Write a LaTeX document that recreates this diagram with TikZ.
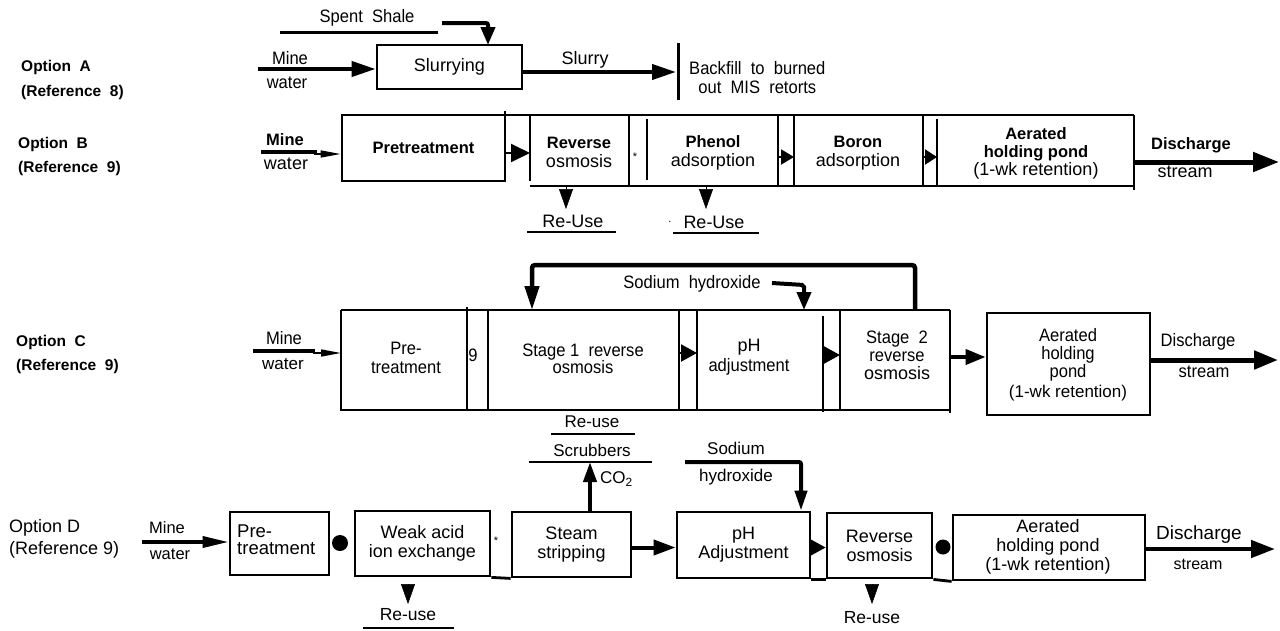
\documentclass[tikz,border=0pt]{standalone}
\usepackage{fontspec}
\setmainfont{Liberation Sans}
\newfontfamily\nar[FakeStretch=0.92]{Liberation Sans}
\usetikzlibrary{arrows.meta}
\begin{document}
\begin{tikzpicture}[x=1pt,y=-1pt,
  box/.style={draw, line width=2.8pt, inner sep=0pt},
  wall/.style={line width=2.8pt},
  flow/.style={line width=4pt, -{Triangle[length=24pt,width=15pt]}},
  bendar/.style={line width=4pt, rounded corners=2pt, -{Triangle[length=18pt,width=14pt]}},
  thinar/.style={line width=1.6pt, -{Triangle[length=20pt,width=7pt]}},
  wedge/.style={line width=2pt, -{Triangle[length=19pt,width=18pt]}},
  drop/.style={line width=0.5pt, -{Triangle[length=20pt,width=14pt]}},
  uline/.style={line width=2.8pt},
  lbl/.style={anchor=west, align=left, inner sep=0pt, font=\fontsize{15.5}{24.5}\selectfont\bfseries},
  bt/.style={inner sep=0pt, align=center, font=\fontsize{16.5}{19}\selectfont\bfseries},
  rt/.style={inner sep=0pt, align=center, font=\fontsize{18}{19}\selectfont},
  nt/.style={inner sep=0pt, align=center, font=\nar\fontsize{18}{19}\selectfont},
  st/.style={inner sep=0pt, font=\fontsize{11}{11}\selectfont}
]
\useasboundingbox (0,0) rectangle (1280,630);

% ---------------- Option A ----------------
\node[lbl] (optA) at (21,80) {Option\ \ A\\(Reference\ \ 8)};
\node[nt] (spent) at (367,18) {Spent\ \ Shale};
\coordinate (spL) at (280,32); \coordinate (spR) at (438,32);
\draw[uline, line width=3pt] (spL) -- (spR);
\node[box, minimum width=145pt, minimum height=44pt, rt] (slur) at (449.5,67) {Slurrying};
\coordinate (spS) at (442,23); \coordinate (spB) at (488,23); \coordinate (spT) at (488,45);
\draw[bendar] (spS) -- (spB) -- (spT);
\node[nt] (mineA) at (290,58) {Mine};
\node[nt] (waterA) at (287,83) {water};
\coordinate (mAs) at (258,69);
\draw[flow] (mAs) -- (slur.west |- mAs);
\node[rt] (slurry) at (585,60) {Slurry};
\coordinate (slE) at (522,72); \coordinate (bar) at (676,72);
\draw[flow] (slE) -- (bar);
\coordinate (barT) at (678,43); \coordinate (barB) at (678,100);
\draw[line width=3pt] (barT) -- (barB);
\node[nt, anchor=west, align=left] (backfill) at (689,77.5) {Backfill\ \ to\ \ burned\\\ \ out\ \ MIS\ \ retorts};

% ---------------- Option B ----------------
\node[lbl] (optB) at (18,156.5) {Option\ \ B\\(Reference\ \ 9)};
\node[bt] (mineB) at (285,140) {Mine};
\node[rt] (waterB) at (286,164) {water};
\coordinate (mBs) at (261,152); \coordinate (mBm) at (317,152); \coordinate (mBt) at (314,154);
\draw[line width=4.5pt] (mBs) -- (mBm);
\node[box, minimum width=163pt, minimum height=66pt, bt] (preB) at (423.5,148) {Pretreatment};
\draw[thinar] (mBt) -- (preB.west |- mBt);
% composite block
\coordinate (tB0) at (505,115); \coordinate (tB1) at (1134,115);
\coordinate (bB0) at (530,186); \coordinate (bB1) at (1134,186);
\draw[wall] (tB0) -- (tB1);
\draw[wall] (bB0) -- (bB1);
\draw[wall] (505,111) -- (505,115);
\coordinate (roL) at (530,153);
\draw[wall] (530,115) -- (530,181);
\draw[wall] (629,115) -- (629,186);
\draw[wall] (647,119) -- (647,180);
\draw[wall] (778,115) -- (778,186);
\draw[wall] (794,115) -- (794,186);
\draw[wall] (923,115) -- (923,186);
\draw[wall] (937,119) -- (937,186);
\draw[wall] (1134,115) -- (1134,190);
\draw[wedge] (preB.east |- roL) -- (roL);
\node[rt] (roB) at (579,152.5) {{\bfseries\fontsize{16.5}{19}\selectfont Reverse}\\osmosis};
\node[st] (starB) at (635,157) {*};
\node[rt] (pheB) at (713,152.5) {{\bfseries\fontsize{16.5}{19}\selectfont Phenol}\\adsorption};
\node[rt] (borB) at (858,153.5) {{\bfseries\fontsize{16.5}{19}\selectfont Boron}\\adsorption};
\node[rt, font=\fontsize{18}{18}\selectfont] (aerB) at (1036,153) {{\bfseries\fontsize{16.5}{18}\selectfont Aerated}\\{\bfseries\fontsize{16.5}{18}\selectfont holding pond}\\(1-wk retention)};
\coordinate (pheR) at (779,157); \coordinate (borL) at (794,157);
\coordinate (borR) at (924,157); \coordinate (aerL) at (937,157);
\draw[line width=2pt, -{Triangle[length=13pt,width=15pt]}] (pheR) -- (borL);
\draw[line width=2pt, -{Triangle[length=12pt,width=15pt]}] (borR) -- (aerL);
\node[bt] (disB) at (1191,145) {Discharge};
\node[rt] (strB) at (1185,172) {stream};
\coordinate (dBs) at (1134,162); \coordinate (dBe) at (1279,162);
\draw[line width=5pt, -{Triangle[length=26pt,width=19pt]}] (dBs) -- (dBe);
% re-use
\coordinate (r1a) at (566,187); \coordinate (r1b) at (566,209);
\coordinate (r2a) at (706,187); \coordinate (r2b) at (706,209);
\draw[drop] (r1a) -- (r1b);
\draw[drop] (r2a) -- (r2b);
\node[rt] (reuse1) at (573,221) {Re-Use};
\node[rt] (reuse2) at (714,222) {Re-Use};
\node[st] (dotB) at (670,222) {.};
\draw[uline] (527,232) -- (616,232);
\draw[uline] (673,233) -- (759,233);

% ---------------- Option C ----------------
\node[lbl] (optC) at (16,354.5) {Option\ \ C\\(Reference\ \ 9)};
\node[nt] (mineC) at (284,338) {Mine};
\node[rt, font=\fontsize{17}{19}\selectfont] (waterC) at (283,364) {water};
\coordinate (mCs) at (253,351); \coordinate (mCm) at (315,351); \coordinate (mCt) at (313,353);
\draw[line width=4.5pt] (mCs) -- (mCm);
\coordinate (cL) at (341,353);
\draw[thinar] (mCt) -- (cL);
\coordinate (tC0) at (341,310); \coordinate (tC1) at (950,310);
\coordinate (bC0) at (341,410); \coordinate (bC1) at (950,410);
\draw[wall] (tC0) -- (tC1);
\draw[wall] (bC0) -- (bC1);
\draw[wall] (341,310) -- (341,411);
\draw[wall] (467,307) -- (467,411);
\draw[wall] (488,310) -- (488,410);
\draw[wall] (679,310) -- (679,410);
\draw[wall] (697,310) -- (697,410);
\draw[wall] (823,316) -- (823,412);
\draw[wall] (840,310) -- (840,410);
\draw[wall] (950,310) -- (950,413);
\node[nt, font=\nar\fontsize{18}{19}\selectfont] (preC) at (406,358) {Pre-\\treatment};
\node[nt] (nineC) at (473,355) {9};
\node[nt, font=\nar\fontsize{18}{17}\selectfont] (st1C) at (583,359) {Stage 1\ \ reverse\\osmosis};
\node[inner sep=0pt, align=center, font=\fontsize{18}{20}\selectfont] (phC) at (749,357) {pH\\{\nar adjustment}};
\node[inner sep=0pt, align=center, font=\fontsize{18}{18}\selectfont] (st2C) at (897,355) {{\nar Stage\ \ 2}\\{\nar reverse}\\osmosis};
\coordinate (s1R) at (679,353); \coordinate (phL) at (697,353);
\coordinate (phR) at (823,355); \coordinate (s2L) at (840,355);
\draw[line width=2pt, -{Triangle[length=16pt,width=17pt]}] (s1R) -- (phL);
\draw[line width=2pt, -{Triangle[length=16pt,width=17pt]}] (phR) -- (s2L);
\node[box, minimum width=163pt, minimum height=102pt] (aerC) at (1068.5,364) {};
\node[inner sep=0pt, align=center, font=\fontsize{18}{18}\selectfont] (aerCt) at (1068,365) {{\nar Aerated}\\{\nar holding}\\{\nar pond}\\[2pt]{\fontsize{17}{18}\selectfont (1-wk retention)}};
\coordinate (s2R) at (951,357);
\draw[line width=4pt, -{Triangle[length=20pt,width=15pt]}] (s2R) -- (aerC.west |- s2R);
\node[nt] (disC) at (1198,342) {Discharge};
\node[nt] (strC) at (1204,372) {stream};
\coordinate (dCe) at (1278,360);
\draw[line width=5pt, -{Triangle[length=24pt,width=18pt]}] (aerC.east |- dCe) -- (dCe);
% feedback
\coordinate (fbA) at (915,310); \coordinate (fbB) at (915,265);
\coordinate (fbC) at (532,265); \coordinate (fbD) at (532,310);
\draw[line width=4.5pt, rounded corners=3pt, -{Triangle[length=24pt,width=14pt]}] (fbA) -- (fbB) -- (fbC) -- (fbD);
\node[nt] (sodC) at (692,284) {Sodium\ \ hydroxide};
\coordinate (naA) at (772,283); \coordinate (naB) at (804,285); \coordinate (naC) at (804,310);
\draw[bendar] (naA) -- (naB) -- (naC);

% ---------------- Option D ----------------
\node[anchor=west, align=left, inner sep=0pt, font=\fontsize{18}{22}\selectfont] (optD) at (9,539) {Option D\\(Reference 9)};
\node[rt, font=\fontsize{16.5}{19}\selectfont] (mineD) at (167,528) {Mine};
\node[rt, font=\fontsize{16.5}{19}\selectfont] (waterD) at (170,554) {water};
\node[box, minimum width=99pt, minimum height=63pt] (preD) at (279.5,543.5) {};
\node[anchor=west, align=left, inner sep=0pt, font=\fontsize{18.5}{17}\selectfont] (preDt) at (237,540) {Pre-\\treatment};
\coordinate (mDs) at (142,542);
\draw[line width=3.5pt, -{Triangle[length=26pt,width=11pt]}] (mDs) -- (preD.west |- mDs);
\fill (340,543) circle[radius=8pt];
\node[box, minimum width=135pt, minimum height=65pt, rt] (weak) at (422.5,543.5) {Weak acid\\ion exchange};
\node[st] (starD) at (496,541) {*};
\node[box, minimum width=119pt, minimum height=65pt, rt] (steam) at (571.5,544.5) {Steam\\stripping};
\draw[wall] (weak.south east) -- (steam.south west);
\node[box, minimum width=133pt, minimum height=66pt, rt] (phD) at (743.5,545) {pH\\Adjustment};
\node[box, minimum width=105pt, minimum height=65pt, rt] (roD) at (879.5,545.5) {Reverse\\osmosis};
\fill (943,547) circle[radius=7.5pt];
\node[box, minimum width=192pt, minimum height=65pt] (aerD) at (1049,547.5) {};
\node[rt] (aerDt) at (1048,547) {Aerated\\holding pond\\(1-wk retention)};
\draw[wall] (phD.south east) -- (roD.south west);
\draw[wall] (roD.south east) -- (aerD.south west);
\coordinate (yD) at (0,547.5);
\draw[line width=4pt, -{Triangle[length=22pt,width=15pt]}] (steam.east |- yD) -- (phD.west |- yD);
\draw[line width=2pt, -{Triangle[length=16pt,width=17pt]}] (phD.east |- yD) -- (roD.west |- yD);
\node[rt, font=\fontsize{19}{19}\selectfont] (disD) at (1199,535) {Discharge};
\node[rt, font=\fontsize{16}{19}\selectfont] (strD) at (1198,564) {stream};
\coordinate (dDe) at (1275,549);
\draw[line width=4.5pt, -{Triangle[length=24pt,width=17pt]}] (aerD.east |- dDe) -- (dDe);
% CO2 / scrubbers / re-use
\coordinate (co2t) at (590,462);
\draw[line width=4pt, -{Triangle[length=20pt,width=13pt]}] (steam.north -| co2t) -- (co2t);
\node[rt, font=\fontsize{17}{19}\selectfont, anchor=west] (co2) at (600,479) {CO\textsubscript{2}};
\draw[uline] (529,462) -- (652,462);
\node[rt, font=\fontsize{17}{19}\selectfont] (scrub) at (592,450) {Scrubbers};
\draw[uline] (551,434) -- (635,434);
\node[rt, font=\fontsize{17}{19}\selectfont] (reuseC) at (592,422) {Re-use};
% sodium hydroxide D
\node[rt, font=\fontsize{17}{19}\selectfont] (sodD) at (736,448) {Sodium};
\node[rt, font=\fontsize{17}{19}\selectfont] (hydD) at (736,477) {hydroxide};
\coordinate (nDa) at (685,462); \coordinate (nDb) at (801,462);
\draw[line width=4pt, rounded corners=2pt, -{Triangle[length=20pt,width=12pt]}] (nDa) -- (nDb) -- (phD.north -| nDb);
% re-use D
\coordinate (rDa) at (408,586); \coordinate (rDb) at (408,604);
\draw[drop] (rDa) -- (rDb);
\node[rt, font=\fontsize{17.5}{19}\selectfont] (reuseD1) at (408,615) {Re-use};
\draw[uline] (363,628) -- (454,628);
\coordinate (rEa) at (872,584); \coordinate (rEb) at (872,604);
\draw[drop] (rEa) -- (rEb);
\node[rt, font=\fontsize{17.5}{19}\selectfont] (reuseD2) at (872,618) {Re-use};
\end{tikzpicture}
\end{document}
